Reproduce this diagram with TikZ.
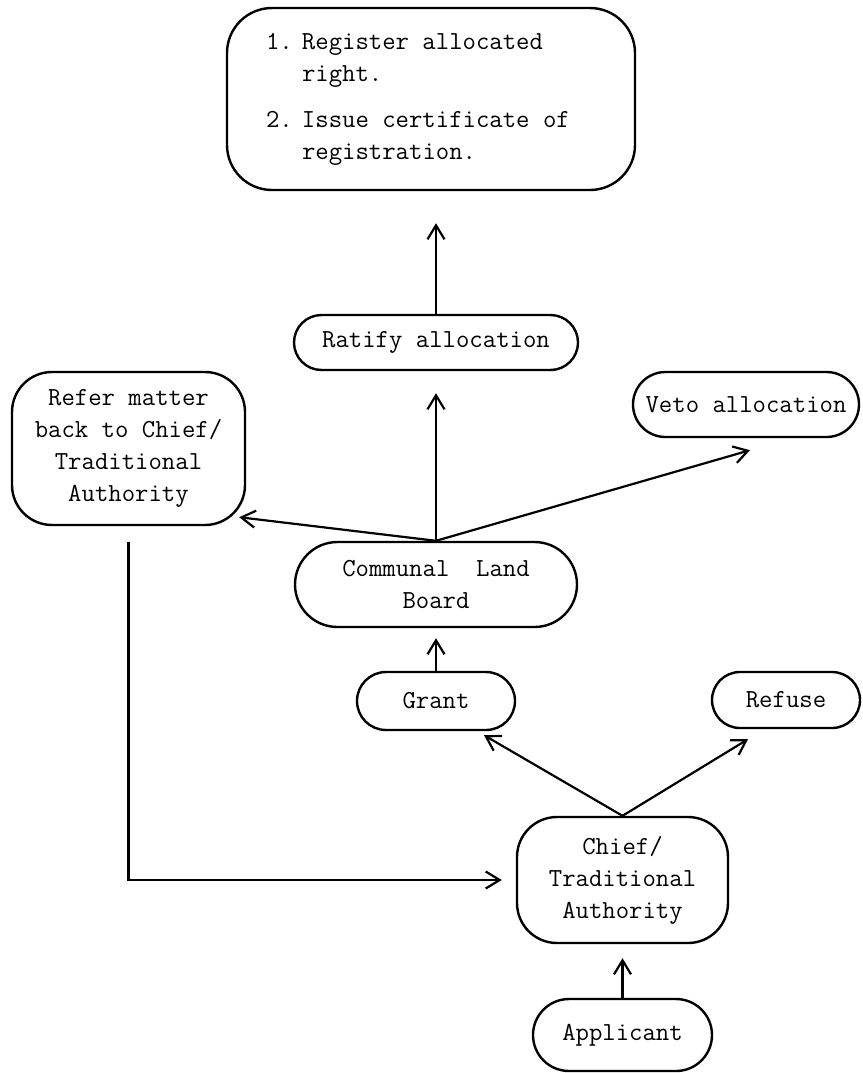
\documentclass[tikz,border=0pt]{standalone}
\usepackage{fontspec}
\usetikzlibrary{arrows.meta,calc,shapes.misc}

\begin{document}
\begin{tikzpicture}[x=1pt,y=-1pt,
  every node/.style={font=\ttfamily\fontsize{26}{32}\selectfont, align=center, inner sep=0pt},
  box/.style={draw, line width=2.4pt, rounded corners=40pt},
  pill/.style={draw, line width=2.4pt, rounded rectangle},
  arr/.style={line width=2.2pt, -{Straight Barb[length=14pt,width=17pt]}}
]
\useasboundingbox (0,0) rectangle (862,1073);

% boxes and pills
\node[box, rounded corners=45pt, minimum width=408pt, minimum height=182pt] (reg) at (431,99)
  {\raisebox{-5pt}{\parbox[c]{330pt}{\raggedright
   \makebox[36pt][l]{1.}Register allocated\\
   \hspace*{36pt}right.\\[14pt]
   \makebox[36pt][l]{2.}Issue certificate of\\
   \hspace*{36pt}registration.}}};

\node[pill, minimum width=284pt, minimum height=55pt] (ratify) at (436,342.5) {Ratify allocation};
\node[pill, minimum width=226pt, minimum height=65pt] (veto) at (746,404.5) {Veto allocation};
\node[box, minimum width=233pt, minimum height=153pt] (refer) at (128.5,448.5)
  {Refer matter\\back to Chief/\\Traditional\\Authority};
\node[pill, minimum width=282pt, minimum height=85pt] (clb) at (436,584.5)
  {Communal~~Land\\Board};
\node[pill, minimum width=158pt, minimum height=58pt] (grant) at (436,701) {Grant};
\node[pill, minimum width=148pt, minimum height=56pt] (refuse) at (786,700) {Refuse};
\node[box, minimum width=211pt, minimum height=126pt] (chief) at (622.5,880)
  {Chief/\\Traditional\\Authority};
\node[pill, minimum width=179pt, minimum height=72pt] (app) at (622.5,1035) {Applicant};

% connectors
\draw[arr, shorten >=32pt] (ratify.north) -- (ratify.north |- reg.south);
\draw[arr, shorten >=22pt] (clb.north) -- (ratify.south);
\draw[arr] (clb.north) -- ($(refer.south east)+(-7,-9)$);
\draw[arr] (clb.north) -- ($(veto.south)+(4,12)$);
\draw[arr, shorten >=10pt] (grant.north) -- (clb.south);
\draw[arr] (chief.north) -- ($(grant.south)+(48,4)$);
\draw[arr] (chief.north) -- ($(refuse.south)+(-38,10)$);
\draw[arr, shorten >=14pt] (app.north) -- (chief.south);
\draw[arr, shorten <=16pt, shorten >=14pt] (refer.south) |- (chief.west);
\end{tikzpicture}
\end{document}
